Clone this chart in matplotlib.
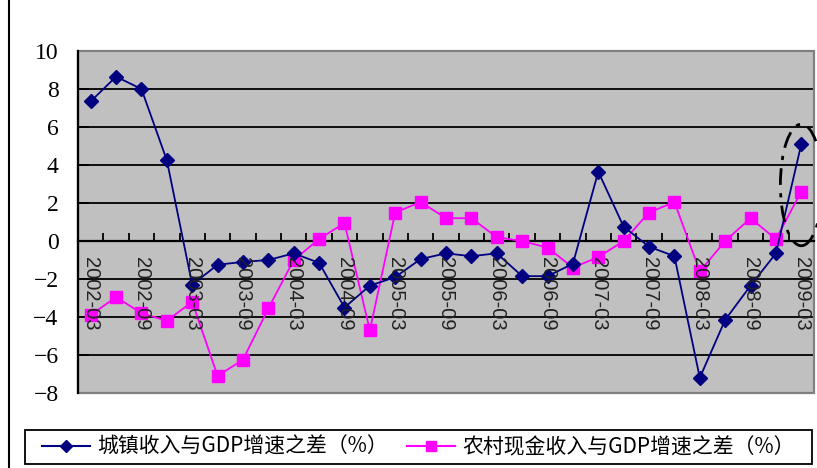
import numpy as np
import matplotlib
matplotlib.use("Agg")
import matplotlib.pyplot as plt
from matplotlib.patches import Rectangle, Ellipse
from matplotlib.lines import Line2D

periods = ["2002-03", "2002-06", "2002-09", "2002-12",
           "2003-03", "2003-06", "2003-09", "2003-12",
           "2004-03", "2004-06", "2004-09", "2004-12",
           "2005-03", "2005-06", "2005-09", "2005-12",
           "2006-03", "2006-06", "2006-09", "2006-12",
           "2007-03", "2007-06", "2007-09", "2007-12",
           "2008-03", "2008-06", "2008-09", "2008-12",
           "2009-03"]
urban = [7.35, 8.65, 8.0, 4.25,
         -2.3, -1.25, -1.1, -1.0,
         -0.65, -1.15, -3.5, -2.35,
         -1.9, -0.95, -0.65, -0.8,
         -0.65, -1.85, -1.85, -1.2,
         3.65, 0.75, -0.3, -0.8,
         -7.2, -4.15, -2.35, -0.65,
         5.1]
rural = [-3.9, -2.95, -3.8, -4.2,
         -3.2, -7.1, -6.25, -3.55,
         -1.0, 0.1, 0.95, -4.7,
         1.5, 2.05, 1.2, 1.2,
         0.2, 0.0, -0.35, -1.4,
         -0.85, 0.0, 1.5, 2.05,
         -1.6, 0.0, 1.2, 0.1,
         2.6]
label_urban = "城镇收入与GDP增速之差（%）"
label_rural = "农村现金收入与GDP增速之差（%）"
yticks = [-8, -6, -4, -2, 0, 2, 4, 6, 8, 10]

NAVY = "#000080"
PINK = "#FF00FF"

fig = plt.figure(figsize=(8.17, 4.68), dpi=100)
ax = fig.add_axes([78/817, 1-393/468, (814-78)/817, (393-51)/468])
ax.set_facecolor("#C0C0C0")

n = len(periods)
x = np.arange(n)
ax.set_xlim(-0.5, n-0.5)
ax.set_ylim(min(yticks), max(yticks))

for v in yticks[1:-1]:
    ax.axhline(v, color="black", lw=1.3, zorder=1)

ax.plot(x, urban, color=NAVY, lw=1.3, marker="D", ms=7, mfc=NAVY, mec=NAVY, zorder=4, clip_on=False)
ax.plot(x, rural, color=PINK, lw=1.3, marker="s", ms=8, mfc=PINK, mec=PINK, zorder=3, clip_on=False)

# spines
ax.spines["top"].set_visible(False)
ax.spines["right"].set_visible(False)
ax.spines["bottom"].set_position(("data", 0))
ax.spines["bottom"].set_linewidth(1.6)
ax.spines["left"].set_linewidth(1.6)
ax.spines["bottom"].set_zorder(2.6)
ax.spines["left"].set_zorder(2.6)
ax.add_patch(Rectangle((0, 0), 1, 1, transform=ax.transAxes, fill=False,
                       edgecolor="#808080", lw=1.6, zorder=2.5, clip_on=False))

ax.set_xticks(np.arange(-0.5, n, 1))
ax.tick_params(axis="x", direction="in", length=6, width=1.3, labelbottom=False)
ax.set_yticks(yticks)
ax.set_yticklabels([f"{v}".replace("-", "\u2212") for v in yticks])
ax.tick_params(axis="y", direction="in", length=8, width=1.3, pad=14)
for lab in ax.get_yticklabels():
    lab.set_fontfamily("Liberation Serif")
    lab.set_fontsize(17)

for i in range(0, n, 2):
    ax.text(x[i], -0.85, periods[i], rotation=-90, ha="center", va="top",
            fontsize=14.5, family="Liberation Sans", color="#222222", zorder=5)

# dash-dot ellipse highlighting last quarter
ax.add_patch(Ellipse((n-1, 2.95), 1.65, 6.4, fill=False, lw=2,
                     linestyle=(0, (6, 3, 1.5, 3)),
                     edgecolor="black", clip_on=False, zorder=6))

# outer chart border (left edge)
fig.add_artist(Line2D([9/817, 9/817], [0, 1], color="black", lw=1.5))

# legend
fig.add_artist(Rectangle((25/817, 1-464/468), (812-25)/817, 34/468,
                         fill=False, edgecolor="black", lw=1.3,
                         transform=fig.transFigure))
h1 = Line2D([], [], color=NAVY, lw=1.5, marker="D", ms=6, mfc=NAVY, mec=NAVY)
h2 = Line2D([], [], color=PINK, lw=1.5, marker="s", ms=7, mfc=PINK, mec=PINK)
fig.legend([h1, h2], [label_urban, label_rural], loc="center left",
           bbox_to_anchor=(42/817, 1-447/468), ncol=2, frameon=False,
           borderpad=0, borderaxespad=0,
           handlelength=2.3, handletextpad=0.35, columnspacing=0.9,
           prop={"family": ["Noto Sans CJK SC", "DejaVu Sans"], "size": 15})

fig.savefig("out.png", dpi=100)
